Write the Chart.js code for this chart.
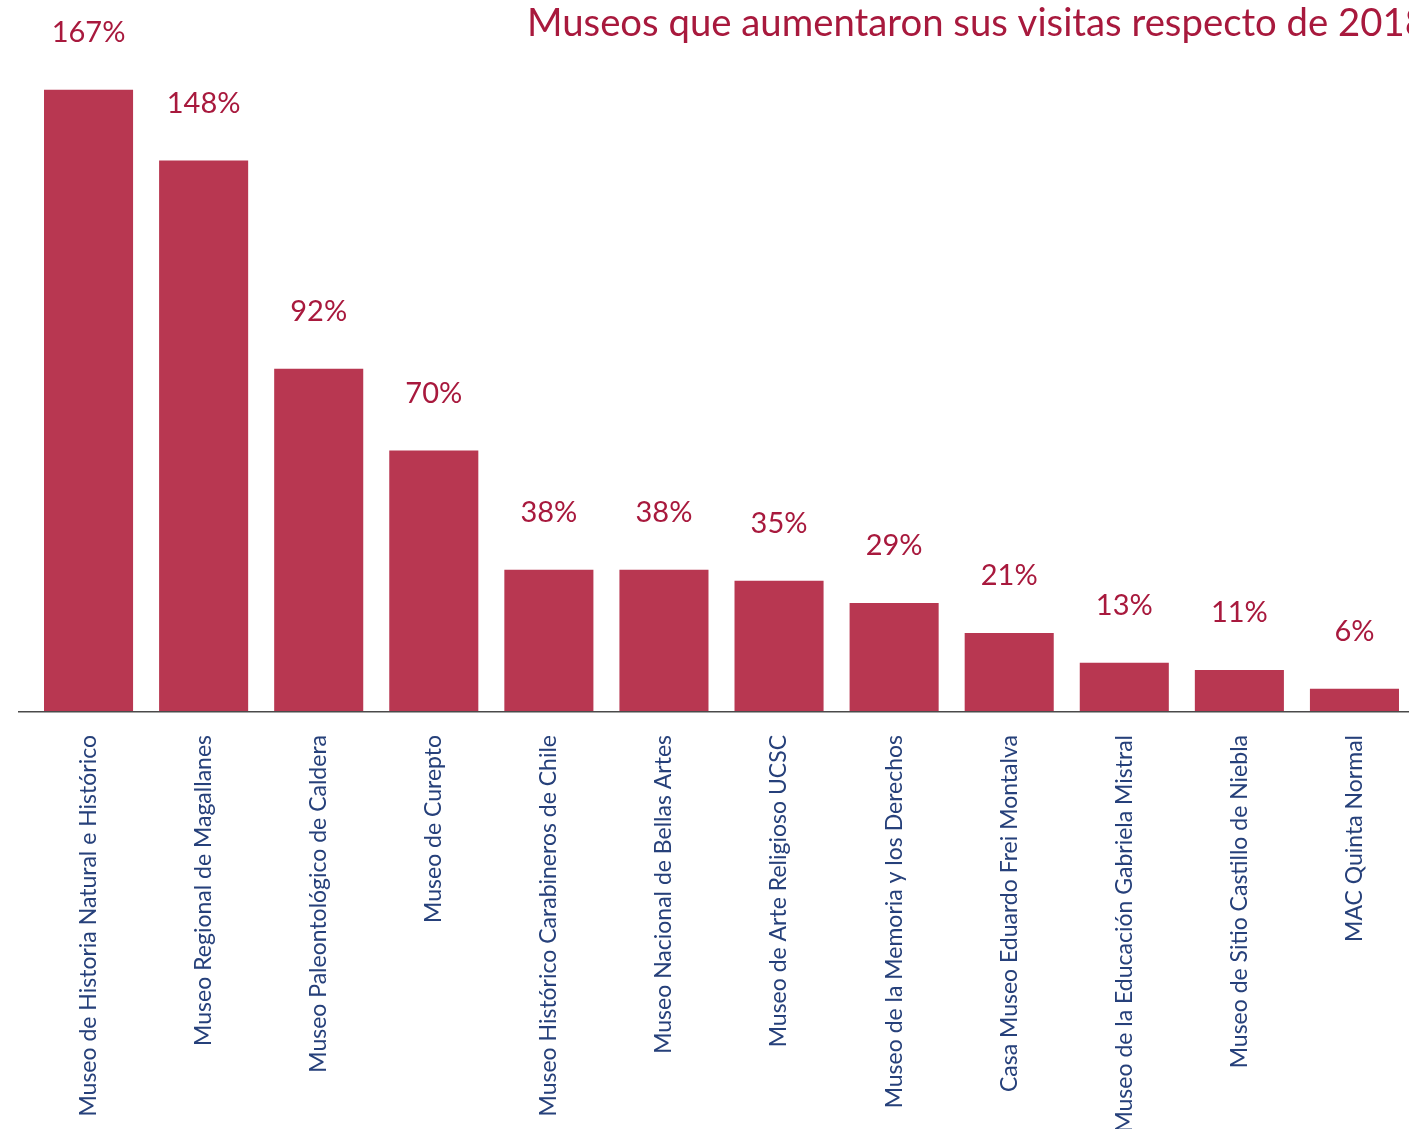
<!DOCTYPE html>
<html>
<head>
<meta charset="utf-8">
<script src="https://cdn.jsdelivr.net/npm/chart.js@4/dist/chart.umd.min.js"></script>
<style>
html,body{margin:0;padding:0;background:#fff;overflow:hidden;}
#wrap{width:1412px;height:1129px;}
</style>
</head>
<body>
<div id="wrap"><canvas id="c" width="1412" height="1129"></canvas></div>
<script>
const categories = [
  "Museo de Historia Natural e Histórico",
  "Museo Regional de Magallanes",
  "Museo Paleontológico de Caldera",
  "Museo de Curepto",
  "Museo Histórico Carabineros de Chile",
  "Museo Nacional de Bellas Artes",
  "Museo de Arte Religioso UCSC",
  "Museo de la Memoria y los Derechos",
  "Casa Museo Eduardo Frei Montalva",
  "Museo de la Educación Gabriela Mistral",
  "Museo de Sitio Castillo de Niebla",
  "MAC Quinta Normal"
];
const increasePct = [167, 148, 92, 70, 38, 38, 35, 29, 21, 13, 11, 6];
const titleText = "Museos que aumentaron sus visitas respecto de 2018";

const BAR = "#b83751";
const LABEL = "#a8193d";
const NAVY = "#26407a";

const titlePlugin = {
  id: "titlePlugin",
  afterDraw(chart) {
    const ctx = chart.ctx;
    ctx.save();
    const ref = "Museos que aumentaron sus visitas respecto de 201";
    let size = 38;
    ctx.font = size + "px Lato";
    const w = ctx.measureText(ref).width;
    size = size * 878 / w;
    ctx.font = size + "px Lato";
    ctx.fillStyle = LABEL;
    ctx.textBaseline = "alphabetic";
    ctx.textAlign = "left";
    ctx.fillText(titleText, 527, 36);
    ctx.restore();
  }
};

const valueLabels = {
  id: "valueLabels",
  afterDatasetsDraw(chart) {
    const ctx = chart.ctx;
    const meta = chart.getDatasetMeta(0);
    ctx.save();
    ctx.font = "29px Lato";
    ctx.fillStyle = LABEL;
    ctx.textAlign = "center";
    ctx.textBaseline = "middle";
    meta.data.forEach((bar, i) => {
      ctx.fillText(increasePct[i] + "%", bar.x, bar.y - 57);
    });
    ctx.restore();
  }
};

const baseline = {
  id: "baseline",
  afterDatasetsDraw(chart) {
    const ctx = chart.ctx;
    const y = chart.scales.y.getPixelForValue(0);
    ctx.save();
    ctx.strokeStyle = "#4a4a4a";
    ctx.lineWidth = 1.5;
    ctx.beginPath();
    ctx.moveTo(18, y + 0.75);
    ctx.lineTo(1409, y + 0.75);
    ctx.stroke();
    ctx.restore();
  }
};

new Chart(document.getElementById("c"), {
  type: "bar",
  data: {
    labels: categories,
    datasets: [{
      data: increasePct,
      backgroundColor: BAR,
      borderWidth: 0,
      barPercentage: 89 / 115,
      categoryPercentage: 1
    }]
  },
  options: {
    responsive: false,
    animation: false,
    layout: { padding: { top: 60, left: 31, right: 0, bottom: 0 } },
    plugins: { legend: { display: false }, tooltip: { enabled: false } },
    scales: {
      x: {
        offset: true,
        grid: { display: false, drawTicks: false },
        border: { display: false },
        ticks: {
          color: NAVY,
          font: { family: "Lato", size: 23 },
          minRotation: 90,
          maxRotation: 90,
          autoSkip: false,
          padding: 24
        },
        afterFit(scale) { scale.height = 418; }
      },
      y: {
        display: false,
        min: 0,
        max: 175
      }
    }
  },
  plugins: [titlePlugin, valueLabels, baseline]
});
</script>
</body>
</html>
